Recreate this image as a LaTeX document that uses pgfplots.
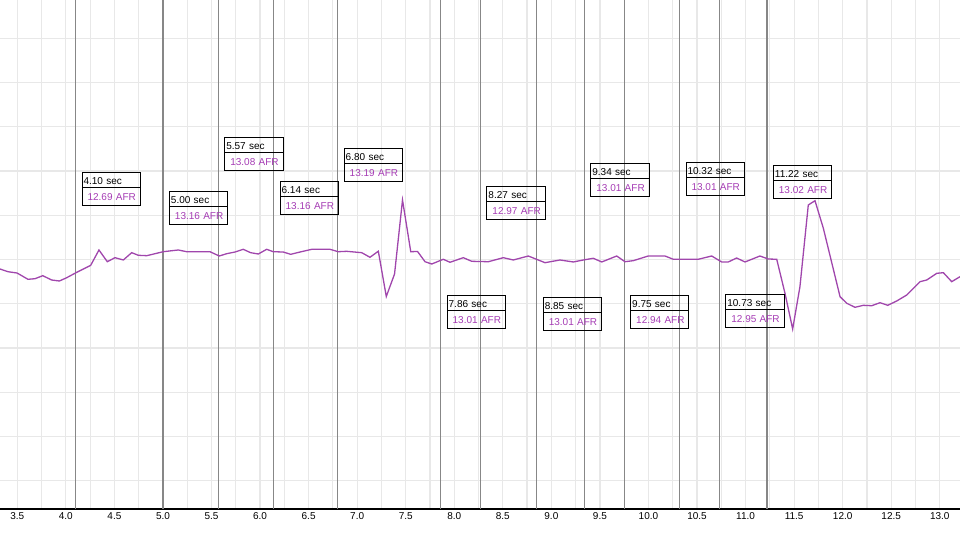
\documentclass[border=0pt]{standalone}
\usepackage{fontspec}
\setmainfont{Liberation Sans}
\usepackage{pgfplots}
\pgfplotsset{compat=1.18}
\usetikzlibrary{shapes.multipart}
\definecolor{afr}{RGB}{160,70,172}
\definecolor{afrtext}{RGB}{165,60,180}
\definecolor{gridc}{RGB}{232,232,232}
\definecolor{markc}{RGB}{135,135,135}
\pgfplotstableread{
t AFR
3.322 12.785
3.404 12.724
3.497 12.695
3.610 12.553
3.682 12.566
3.762 12.634
3.854 12.537
3.933 12.514
4.009 12.589
4.105 12.702
4.256 12.869
4.341 13.215
4.427 12.950
4.506 13.041
4.592 12.989
4.678 13.154
4.746 13.095
4.833 13.086
5.003 13.176
5.158 13.215
5.244 13.176
5.484 13.176
5.580 13.079
5.656 13.131
5.742 13.169
5.827 13.230
5.903 13.154
5.982 13.124
6.068 13.230
6.136 13.176
6.239 13.169
6.315 13.117
6.412 13.169
6.532 13.230
6.720 13.230
6.806 13.176
6.892 13.185
7.047 13.154
7.132 13.050
7.218 13.187
7.300 12.164
7.385 12.672
7.467 14.344
7.552 13.176
7.622 13.181
7.699 12.950
7.768 12.898
7.887 13.005
7.956 12.937
8.093 13.041
8.180 12.959
8.351 12.950
8.505 13.041
8.608 12.989
8.763 13.079
8.935 12.928
9.089 12.989
9.226 12.944
9.329 12.989
9.432 13.027
9.519 12.944
9.673 13.079
9.758 12.950
9.843 12.973
9.998 13.079
10.170 13.079
10.256 13.005
10.513 13.005
10.651 13.079
10.754 12.944
10.822 12.944
10.908 13.034
10.994 12.944
11.148 13.079
11.234 13.011
11.321 13.005
11.406 12.236
11.485 11.430
11.560 12.386
11.646 14.231
11.715 14.328
11.801 13.705
11.973 12.160
12.042 12.011
12.127 11.920
12.213 11.965
12.299 11.956
12.385 12.024
12.464 11.965
12.557 12.063
12.660 12.198
12.797 12.499
12.866 12.537
12.969 12.688
13.037 12.702
13.123 12.499
13.208 12.611
}\afrdata
\newcommand{\lbl}[4]{%
  \node[draw=black, line width=1pt, rectangle split, rectangle split parts=2,
        anchor=north west, xshift=6pt, inner xsep=1.5pt, inner ysep=1.7pt,
        text width=55.3pt, align=left, font=\fontsize{10}{12}\selectfont]
    at (axis cs:#1,#2) {\rule{0pt}{10.2pt}#3 sec\nodepart{second}\rule[-2pt]{0pt}{13.5pt}\hspace{4pt}\textcolor{afrtext}{#4 AFR}};}
\begin{document}
\begin{tikzpicture}
\useasboundingbox (0,0) rectangle (960pt,540pt);
\begin{axis}[
  at={(0,31pt)}, anchor=south west,
  scale only axis, width=960pt, height=509pt,
  xmin=3.3218, xmax=13.2085, ymin=7.364, ymax=18.862,
  axis x line*=bottom, axis y line*=left,
  y axis line style={draw=none},
  x axis line style={black, line width=1.4pt},
  xtick={3.5,4,...,13}, minor x tick num=1,
  ytick={8,9,...,18}, yticklabels={},
  tick style={draw=none},
  grid=both,
  major grid style={gridc, line width=1.2pt},
  minor grid style={gridc, line width=1.2pt},
  extra x ticks={4.10,5.00,5.57,6.14,6.80,7.86,8.27,8.85,9.34,9.75,10.32,10.73,11.22},
  extra x tick labels={},
  extra x tick style={grid=major, major grid style={markc, line width=1.3pt}},
  xticklabel style={font=\fontsize{10}{12}\selectfont},
  /pgf/number format/.cd, fixed, fixed zerofill, precision=1, assume math mode=true,
]
\addplot[afr, line width=1.3pt, mark=none] table[x=t, y=AFR] {\afrdata};
\lbl{4.10}{14.977}{4.10}{12.69}
\lbl{5.00}{14.547}{5.00}{13.16}
\lbl{5.57}{15.767}{5.57}{13.08}
\lbl{6.14}{14.773}{6.14}{13.16}
\lbl{6.80}{15.519}{6.80}{13.19}
\lbl{7.86}{12.198}{7.86}{13.01}
\lbl{8.27}{14.660}{8.27}{12.97}
\lbl{8.85}{12.153}{8.85}{13.01}
\lbl{9.34}{15.180}{9.34}{13.01}
\lbl{9.75}{12.198}{9.75}{12.94}
\lbl{10.32}{15.202}{10.32}{13.01}
\lbl{10.73}{12.221}{10.73}{12.95}
\lbl{11.22}{15.135}{11.22}{13.02}
\end{axis}
\end{tikzpicture}
\end{document}
